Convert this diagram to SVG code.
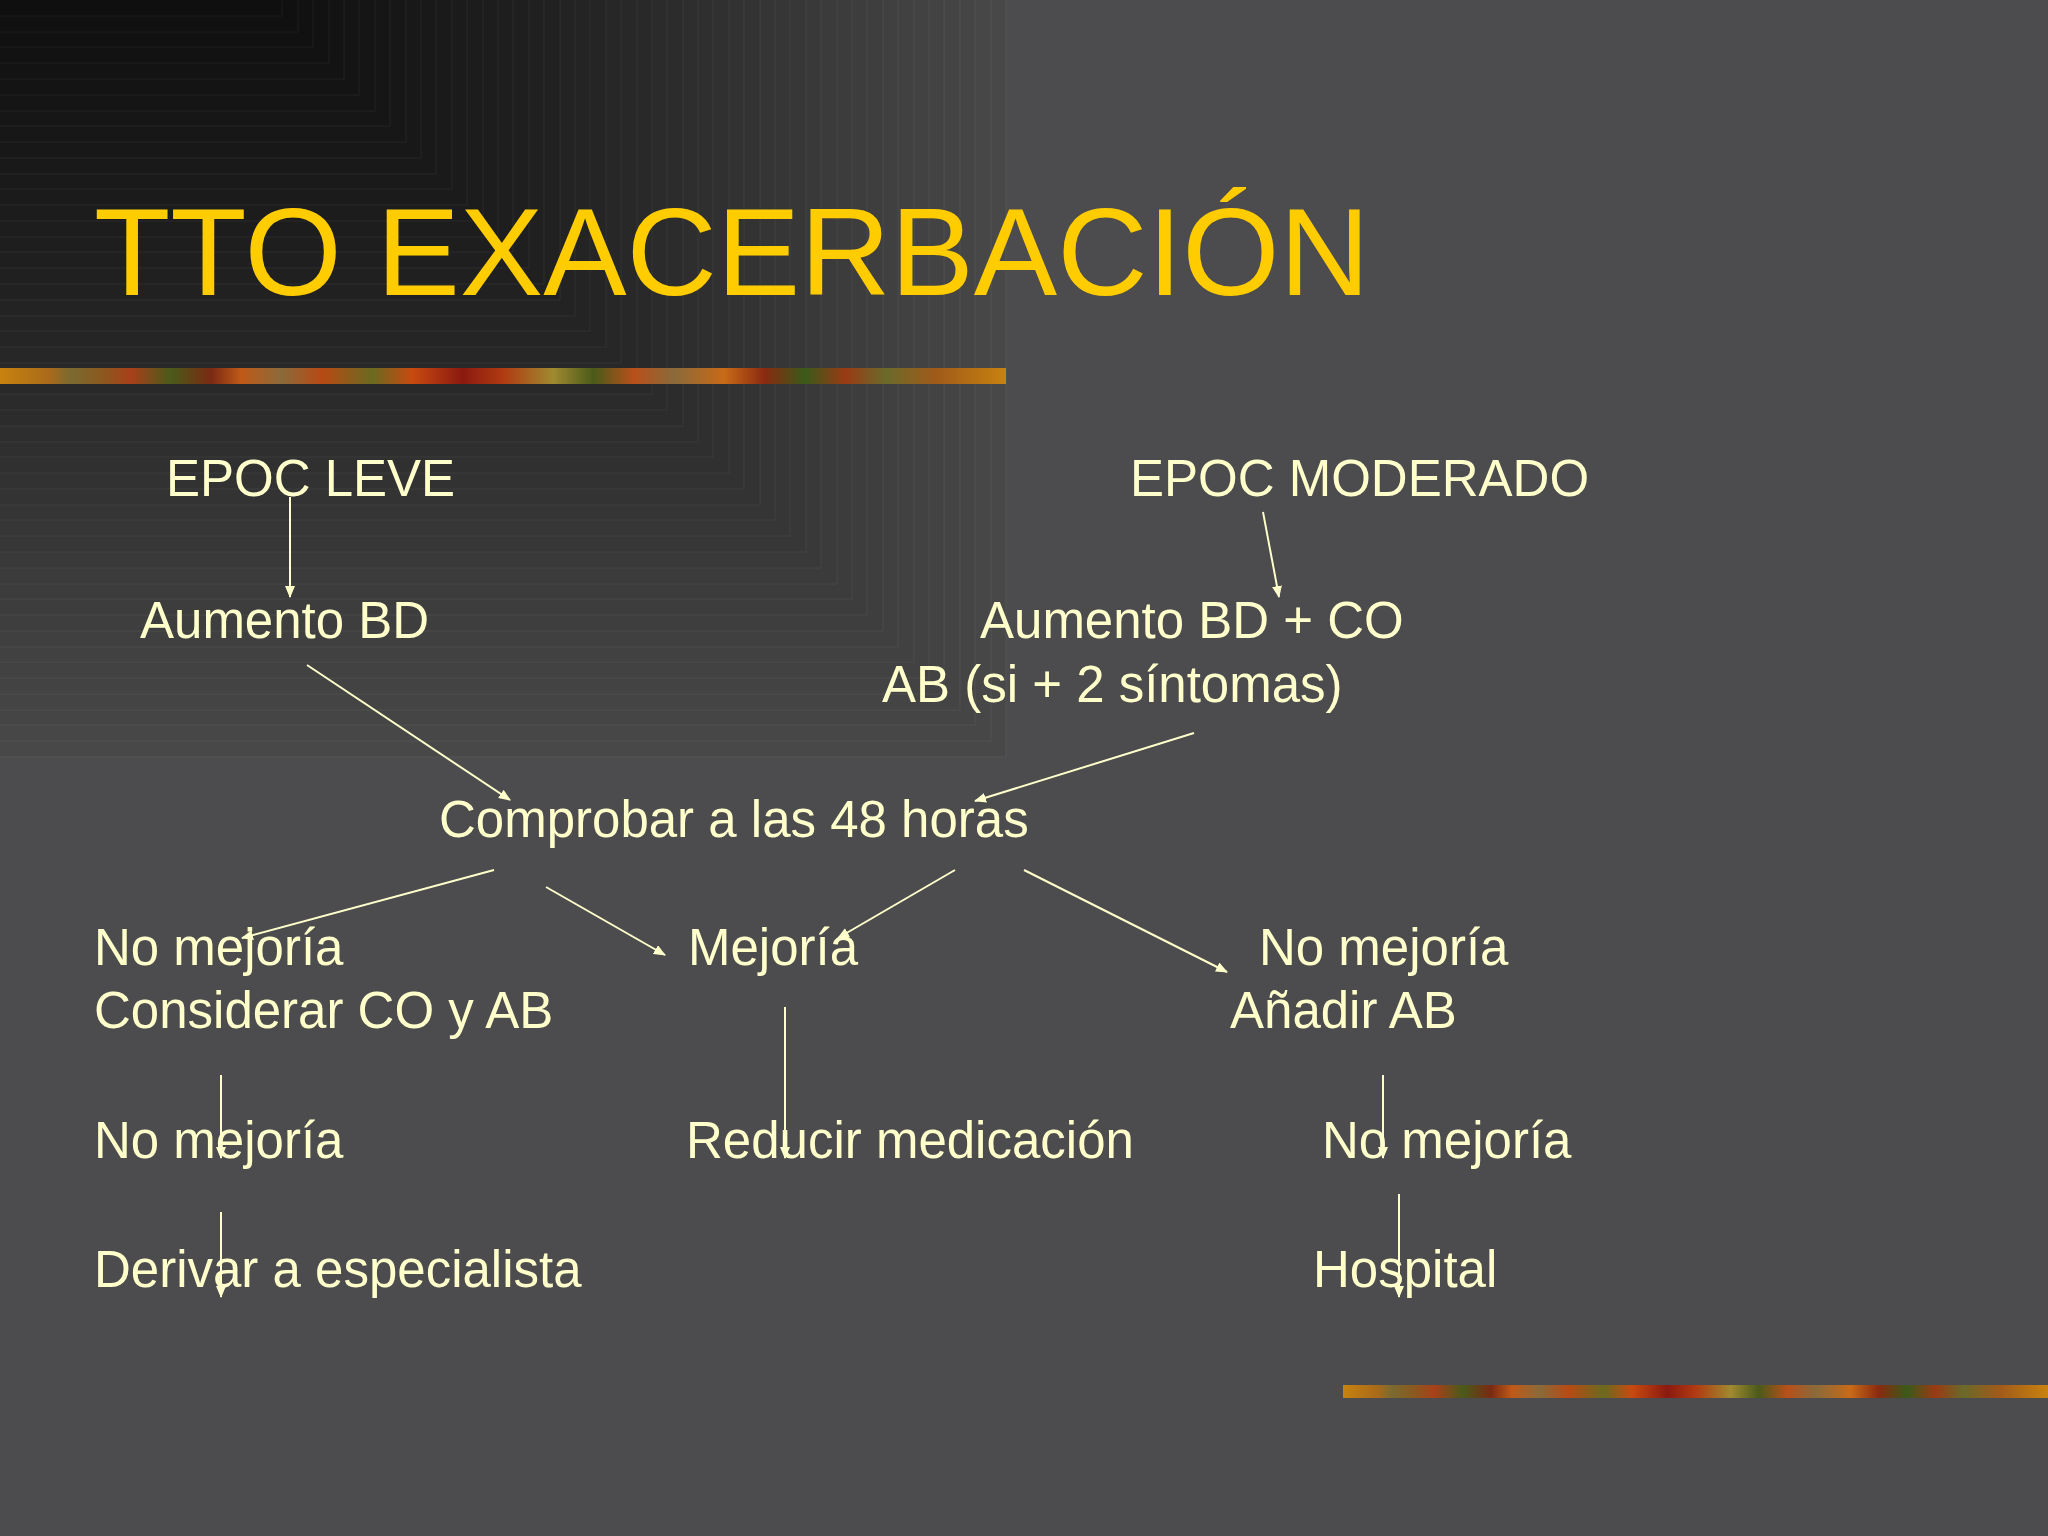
<svg xmlns="http://www.w3.org/2000/svg" width="2048" height="1536" viewBox="0 0 2048 1536">
<defs>
<style>
.t{font-family:"Liberation Sans",Arial,sans-serif;font-size:51px;fill:#FFFFCC}
.title{font-family:"Liberation Sans",Arial,sans-serif;font-size:125px;fill:#FFCC00}
.c line{stroke:#FFFFCC;stroke-width:2;fill:none}
.a{marker-end:url(#arr)}
.bg rect{stroke:#ffffff;stroke-opacity:0.06;stroke-width:1}
</style>
<marker id="arr" markerUnits="userSpaceOnUse" markerWidth="12" markerHeight="10" refX="11" refY="5" orient="auto">
<path d="M0,0 L12,5 L0,10 z" fill="#FFFFCC"/>
</marker>
<linearGradient id="bar" x1="0" y1="0" x2="1" y2="0">
<stop offset="0" stop-color="#c8820f"/>
<stop offset="0.05" stop-color="#a86a1a"/>
<stop offset="0.07" stop-color="#7a6a30"/>
<stop offset="0.1" stop-color="#8a5a20"/>
<stop offset="0.13" stop-color="#a8401a"/>
<stop offset="0.17" stop-color="#4a5a1a"/>
<stop offset="0.21" stop-color="#7a2a12"/>
<stop offset="0.24" stop-color="#c05a18"/>
<stop offset="0.28" stop-color="#8a6a3a"/>
<stop offset="0.32" stop-color="#b84a14"/>
<stop offset="0.37" stop-color="#6a6a20"/>
<stop offset="0.41" stop-color="#c84a10"/>
<stop offset="0.46" stop-color="#8a1a10"/>
<stop offset="0.5" stop-color="#b03a12"/>
<stop offset="0.55" stop-color="#a08a30"/>
<stop offset="0.59" stop-color="#4a5a1a"/>
<stop offset="0.63" stop-color="#b8501a"/>
<stop offset="0.67" stop-color="#8a6a3a"/>
<stop offset="0.72" stop-color="#c86a18"/>
<stop offset="0.76" stop-color="#8a2a10"/>
<stop offset="0.8" stop-color="#3a5a1a"/>
<stop offset="0.84" stop-color="#9a3a14"/>
<stop offset="0.88" stop-color="#6a6a2a"/>
<stop offset="0.93" stop-color="#a05a1a"/>
<stop offset="1" stop-color="#c8820f"/>
</linearGradient>
</defs>
<rect width="2048" height="1536" fill="#4c4b4d"/>
<g class="bg">
<rect x="-1" y="-1" width="1007" height="758" fill="rgb(72,72,73)"/>
<rect x="-1" y="-1" width="992" height="742" fill="rgb(71,71,71)"/>
<rect x="-1" y="-1" width="976" height="726" fill="rgb(69,69,69)"/>
<rect x="-1" y="-1" width="961" height="711" fill="rgb(68,68,68)"/>
<rect x="-1" y="-1" width="945" height="695" fill="rgb(67,67,67)"/>
<rect x="-1" y="-1" width="930" height="679" fill="rgb(66,66,66)"/>
<rect x="-1" y="-1" width="915" height="663" fill="rgb(65,65,65)"/>
<rect x="-1" y="-1" width="899" height="648" fill="rgb(64,64,64)"/>
<rect x="-1" y="-1" width="884" height="632" fill="rgb(62,62,62)"/>
<rect x="-1" y="-1" width="868" height="616" fill="rgb(61,61,61)"/>
<rect x="-1" y="-1" width="853" height="600" fill="rgb(60,60,60)"/>
<rect x="-1" y="-1" width="838" height="585" fill="rgb(59,59,59)"/>
<rect x="-1" y="-1" width="822" height="569" fill="rgb(57,57,57)"/>
<rect x="-1" y="-1" width="807" height="553" fill="rgb(55,55,55)"/>
<rect x="-1" y="-1" width="791" height="537" fill="rgb(54,54,54)"/>
<rect x="-1" y="-1" width="776" height="521" fill="rgb(53,53,53)"/>
<rect x="-1" y="-1" width="761" height="506" fill="rgb(51,51,51)"/>
<rect x="-1" y="-1" width="745" height="490" fill="rgb(50,50,50)"/>
<rect x="-1" y="-1" width="730" height="474" fill="rgb(48,48,48)"/>
<rect x="-1" y="-1" width="714" height="458" fill="rgb(47,47,47)"/>
<rect x="-1" y="-1" width="699" height="443" fill="rgb(46,46,46)"/>
<rect x="-1" y="-1" width="684" height="427" fill="rgb(44,44,44)"/>
<rect x="-1" y="-1" width="668" height="411" fill="rgb(43,43,43)"/>
<rect x="-1" y="-1" width="653" height="395" fill="rgb(41,41,41)"/>
<rect x="-1" y="-1" width="638" height="380" fill="rgb(40,40,40)"/>
<rect x="-1" y="-1" width="622" height="364" fill="rgb(39,39,39)"/>
<rect x="-1" y="-1" width="607" height="348" fill="rgb(37,37,37)"/>
<rect x="-1" y="-1" width="591" height="332" fill="rgb(36,36,36)"/>
<rect x="-1" y="-1" width="576" height="317" fill="rgb(35,35,35)"/>
<rect x="-1" y="-1" width="561" height="301" fill="rgb(33,33,33)"/>
<rect x="-1" y="-1" width="545" height="285" fill="rgb(32,32,32)"/>
<rect x="-1" y="-1" width="530" height="269" fill="rgb(31,31,31)"/>
<rect x="-1" y="-1" width="514" height="253" fill="rgb(30,30,30)"/>
<rect x="-1" y="-1" width="499" height="238" fill="rgb(29,29,29)"/>
<rect x="-1" y="-1" width="484" height="222" fill="rgb(28,28,28)"/>
<rect x="-1" y="-1" width="468" height="206" fill="rgb(27,27,27)"/>
<rect x="-1" y="-1" width="453" height="190" fill="rgb(26,26,26)"/>
<rect x="-1" y="-1" width="437" height="175" fill="rgb(25,25,25)"/>
<rect x="-1" y="-1" width="422" height="159" fill="rgb(24,24,24)"/>
<rect x="-1" y="-1" width="407" height="143" fill="rgb(23,23,23)"/>
<rect x="-1" y="-1" width="391" height="127" fill="rgb(22,22,22)"/>
<rect x="-1" y="-1" width="376" height="112" fill="rgb(21,21,21)"/>
<rect x="-1" y="-1" width="360" height="96" fill="rgb(20,20,20)"/>
<rect x="-1" y="-1" width="345" height="80" fill="rgb(19,19,19)"/>
<rect x="-1" y="-1" width="330" height="64" fill="rgb(18,18,18)"/>
<rect x="-1" y="-1" width="314" height="48" fill="rgb(17,17,17)"/>
<rect x="-1" y="-1" width="299" height="33" fill="rgb(16,16,16)"/>
<rect x="-1" y="-1" width="283" height="17" fill="rgb(15,15,15)"/>
</g>
<rect id="bar-top" x="0" y="368" width="1006" height="16" fill="url(#bar)"/>
<rect id="bar-bottom" x="1343" y="1385" width="705" height="13" fill="url(#bar)"/>
<text class="title" x="94" y="295">TTO EXACERBACIÓN</text>
<g id="connectors" class="c">
<line class="a" x1="290" y1="497" x2="290" y2="597"/>
<line class="a" x1="1263" y1="512" x2="1279" y2="597"/>
<line class="a" x1="307" y1="665" x2="510" y2="800"/>
<line class="a" x1="1194" y1="733" x2="975" y2="801"/>
<line class="a" x1="494" y1="870" x2="242" y2="938"/>
<line class="a" x1="546" y1="887" x2="665" y2="955"/>
<line class="a" x1="955" y1="870" x2="838" y2="938"/>
<line class="a" x1="1024" y1="870" x2="1227" y2="972"/>
<line class="a" x1="221" y1="1075" x2="221" y2="1158"/>
<line class="a" x1="221" y1="1212" x2="221" y2="1297"/>
<line class="a" x1="785" y1="1007" x2="785" y2="1158"/>
<line class="a" x1="1383" y1="1075" x2="1383" y2="1158"/>
<line class="a" x1="1399" y1="1194" x2="1399" y2="1297"/>
</g>
<g id="n-epoc-leve"><text class="t" x="166" y="496">EPOC LEVE</text></g>
<g id="n-epoc-moderado"><text class="t" x="1130" y="496">EPOC MODERADO</text></g>
<g id="n-aumento-bd"><text class="t" x="140" y="638">Aumento BD</text></g>
<g id="n-aumento-bd-co"><text class="t" x="980" y="638">Aumento BD + CO</text><text class="t" x="882" y="702">AB (si + 2 síntomas)</text></g>
<g id="n-comprobar"><text class="t" x="439" y="837">Comprobar a las 48 horas</text></g>
<g id="n-no-mejoria-1"><text class="t" x="94" y="965">No mejoría</text><text class="t" x="94" y="1028">Considerar CO y AB</text></g>
<g id="n-mejoria"><text class="t" x="688" y="965">Mejoría</text></g>
<g id="n-no-mejoria-2"><text class="t" x="1259" y="965">No mejoría</text><text class="t" x="1230" y="1028">Añadir AB</text></g>
<g id="n-no-mejoria-3"><text class="t" x="94" y="1158">No mejoría</text></g>
<g id="n-reducir"><text class="t" x="686" y="1158">Reducir medicación</text></g>
<g id="n-no-mejoria-4"><text class="t" x="1322" y="1158">No mejoría</text></g>
<g id="n-derivar"><text class="t" x="94" y="1287">Derivar a especialista</text></g>
<g id="n-hospital"><text class="t" x="1313" y="1287">Hospital</text></g>
</svg>
